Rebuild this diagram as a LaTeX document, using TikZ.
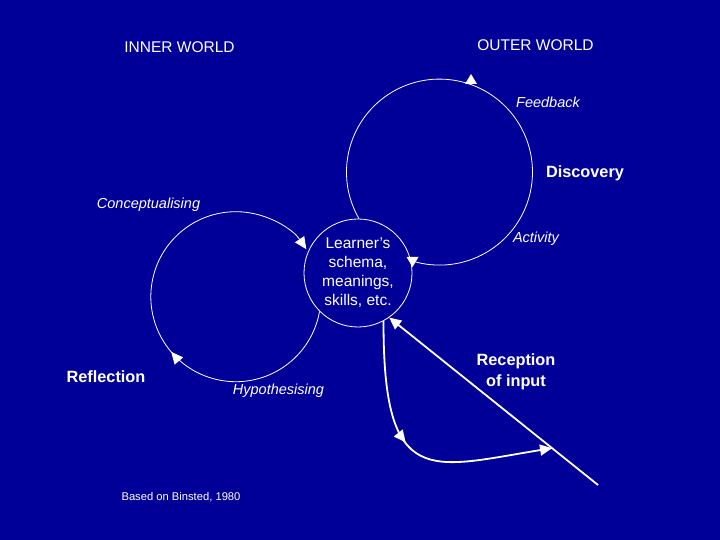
\documentclass[tikz,border=0pt]{standalone}
\usepackage{fontspec}
\setmainfont{Liberation Sans}
\usetikzlibrary{arrows.meta}
\usetikzlibrary{decorations.markings}
\usetikzlibrary{calc}
\definecolor{slideblue}{RGB}{0,0,153}

\begin{document}
\begin{tikzpicture}[x=1pt, y=1pt,
    wedge/.tip={Triangle[length=12pt,width=11pt]},
    loop/.style={white, line width=0.8pt},
    flow/.style={white, line width=1.8pt},
    head/.pic={\fill[white] (0,0) -- (-10,6) -- (-10,-6) -- cycle;},
    caption/.style={text=white, anchor=base, inner sep=0pt},
    titlefont/.style={font=\fontsize{15.5}{19}\selectfont},
    cyclefont/.style={font=\fontsize{14.5}{18}\itshape},
    stagefont/.style={font=\fontsize{16.3}{21}\bfseries},
    notefont/.style={font=\fontsize{11.2}{14}\selectfont}]
  % Background
  \useasboundingbox (0,0) rectangle (720,540);
  \fill[slideblue] (0,0) rectangle (720,540);

  % Learner
  \node[draw=white, line width=0.8pt, circle, minimum size=108pt, inner sep=0pt,
        text=white, align=center, titlefont] (learner) at (358,267)
        {Learner's\\schema,\\meanings,\\skills, etc.};

  % Headings
  \node[caption, titlefont] (inner) at (179.5,487) {INNER WORLD};
  \node[caption, titlefont] (outer) at (535.5,489) {OUTER WORLD};

  % Discovery loop
  \draw[loop] (learner.89) arc[start angle=210, end angle=-107, radius=93];
  \pic[rotate=90] at (471,466) {head};
  \pic[rotate=-90] at (412.5,273) {head};
  \node[caption, cyclefont] (feedback) at (548,432) {Feedback};
  \node[caption, stagefont] (discovery) at (585,362) {Discovery};
  \node[caption, cyclefont] (activity) at (536,297) {Activity};

  % Reflection loop
  \draw[loop, -wedge, postaction={decorate},
        decoration={markings, mark=at position 0.41 with {\arrow{wedge}}}]
    (learner.-135) arc[start angle=-10, end angle=-326, radius=85];
  \node[caption, cyclefont] (concept) at (148.5,331) {Conceptualising};
  \node[caption, stagefont] (reflection) at (106,157.5) {Reflection};
  \node[caption, cyclefont] (hypo) at (278.5,145) {Hypothesising};

  % Input
  \coordinate (source) at (598,55);
  \coordinate (meet) at ($(source)!0.22!(learner.-55)$);
  \draw[flow, -wedge] (source) -- (learner.-55);
  \draw[flow, -wedge, postaction={decorate},
        decoration={markings, mark=at position 0.45 with {\arrow{wedge}}}]
    (learner.-62) .. controls (383,50) and (430,72) .. (meet);
  \node[text=white, align=center, stagefont] (reception) at (516,168.7)
    {Reception\\of input};

  % Source
  \node[caption, notefont] (based) at (181,39) {Based on Binsted, 1980};
\end{tikzpicture}
\end{document}
